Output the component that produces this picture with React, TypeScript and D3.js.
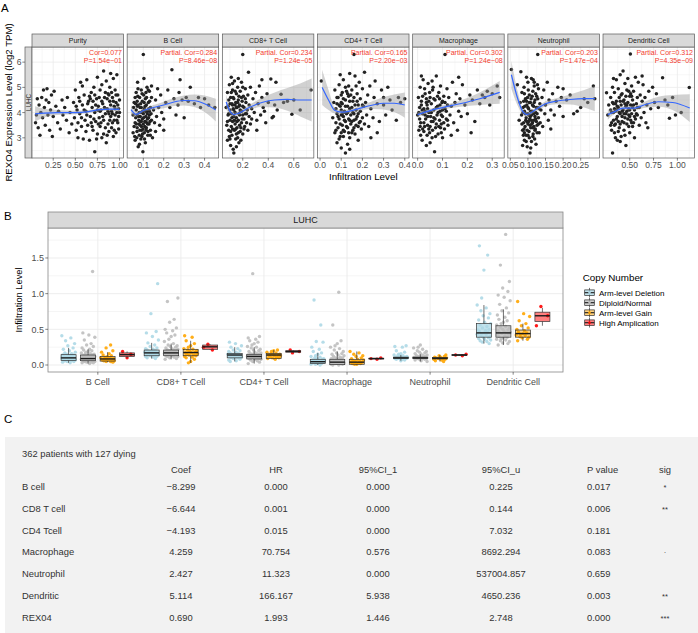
import React from 'react';
import * as d3 from 'd3';

const FONT = "'Liberation Sans', Arial, Helvetica, sans-serif";

// ---------------- Panel A data ----------------
const panelNames = ["Purity", "B Cell", "CD8+ T Cell", "CD4+ T Cell", "Macrophage", "Neutrophil", "Dendritic Cell"];
const corLabels = ["Cor=0.077", "Partial. Cor=0.284", "Partial. Cor=0.234", "Partial. Cor=0.165", "Partial. Cor=0.302", "Partial. Cor=0.203", "Partial. Cor=0.312"];
const pLabels = ["P=1.54e\u221201", "P=8.46e\u221208", "P=1.24e\u221205", "P=2.20e\u221203", "P=1.24e\u221208", "P=1.47e\u221204", "P=4.35e\u221209"];
const xDomains: [number, number][] = [[0.01, 1.045], [0.021, 0.469], [0.04, 0.757], [-0.012, 0.42], [-0.02, 0.348], [0.043, 0.303], [0.22, 1.18]];
const xTicks: number[][] = [[0.25, 0.5, 0.75, 1.0], [0.1, 0.2, 0.3, 0.4], [0.2, 0.4, 0.6], [0.0, 0.1, 0.2, 0.3, 0.4], [0.0, 0.1, 0.2, 0.3], [0.05, 0.1, 0.15, 0.2, 0.25], [0.5, 0.75, 1.0]];
const xTickLabels: string[][] = [["0.25", "0.50", "0.75", "1.00"], ["0.1", "0.2", "0.3", "0.4"], ["0.2", "0.4", "0.6"], ["0.0", "0.1", "0.2", "0.3", "0.4"], ["0.0", "0.1", "0.2", "0.3"], ["0.05", "0.10", "0.15", "0.20", "0.25"], ["0.50", "0.75", "1.00"]];
const yTicksA = [3, 4, 5, 6];
const yDomainA: [number, number] = [2.2, 6.6];

const purityPts = [[0.05,3.6],[0.06,3.9],[0.07,4.55],[0.08,3.4],[0.09,4.3],[0.10,3.1],[0.11,4.0],[0.12,4.6],[0.13,3.8],[0.14,4.9],[0.15,4.2],[0.16,3.5],[0.17,4.5],[0.18,4.95],[0.19,3.9],[0.20,4.4],[0.21,3.3],[0.22,4.1],[0.23,4.7],[0.24,3.05],[0.25,3.85],[0.26,4.85],[0.28,4.25],[0.30,3.6],[0.31,4.05],[0.33,3.35],[0.35,4.5],[0.36,3.9],[0.38,4.2],[0.40,3.7],[0.41,4.6],[0.43,3.2],[0.44,4.0],[0.46,3.55],
[0.48,4.4],[0.49,3.8],[0.50,4.9],[0.51,3.3],[0.52,4.1],[0.53,3.6],[0.54,4.6],[0.55,3.95],[0.56,5.2],[0.57,3.45],[0.58,4.3],[0.59,2.95],[0.60,4.7],[0.61,3.7],[0.62,4.05],[0.63,5.3],[0.64,3.5],[0.65,4.45],[0.66,2.9],[0.67,3.85],[0.68,4.8],[0.69,4.2],[0.70,3.3],[0.71,5.0],[0.72,2.45],[0.72,4.0],[0.73,3.65],[0.74,4.55],[0.75,5.4],[0.75,3.15],[0.76,4.25],[0.77,3.8],[0.78,4.9],[0.78,3.45],[0.79,4.1],[0.80,3.0],[0.80,5.1],[0.81,4.35],[0.82,5.65],[0.82,3.7],[0.83,4.6],[0.84,3.95],[0.85,2.8],[0.85,5.25],[0.86,4.15],[0.87,3.55],[0.87,4.75],[0.88,3.25],[0.89,4.45],[0.89,5.0],[0.90,3.85],[0.90,5.55],[0.91,4.05],[0.91,3.4],[0.92,4.6],[0.93,3.05],[0.93,5.35],[0.94,4.25],[0.94,3.7],[0.95,4.9],[0.95,3.9],[0.96,4.4],[0.96,3.2],[0.97,5.5],[0.97,4.0],[0.98,3.6],[0.98,4.7],[0.99,4.15],[0.99,3.35],[1.0,4.5],[0.53,3.0],[0.62,3.25],[0.68,3.6],[0.74,2.95],[0.66,4.65],[0.58,5.05],[0.7,4.45],[0.76,3.55],[0.84,4.8],[0.88,3.95],[0.92,3.6],[0.86,3.1]];
const purityPtsDense = [[0.51,4.25],[0.55,4.45],[0.57,3.8],[0.6,4.1],[0.63,3.9],[0.64,4.35],[0.67,4.55],[0.69,3.45],[0.71,3.75],[0.73,4.3],[0.75,4.1],[0.77,4.6],[0.79,3.6],[0.8,4.45],[0.81,3.85],[0.83,4.2],[0.84,3.4],[0.86,4.55],[0.87,4.05],[0.88,4.7],[0.89,3.7],[0.9,4.3],[0.91,4.8],[0.92,3.95],[0.93,4.45],[0.94,3.3],[0.95,4.15],[0.96,4.7],[0.97,3.7],[0.98,4.3],[0.99,3.85],[1.0,4.0],[0.82,3.15],[0.78,4.05],[0.72,4.7]];

const bCellPts = [[0.05,3.9],[0.05,3.2],[0.055,4.4],[0.06,2.9],[0.06,3.6],[0.065,4.1],[0.065,4.8],[0.07,3.4],[0.07,3.9],[0.072,5.2],[0.075,2.65],[0.075,4.3],[0.078,3.7],[0.08,3.1],[0.08,4.0],[0.082,4.6],[0.085,3.5],[0.085,3.85],[0.088,2.95],[0.09,4.2],[0.09,4.9],[0.092,3.3],[0.095,3.75],[0.095,4.45],[0.098,2.45],[0.1,6.3],[0.1,3.95],[0.1,3.55],[0.102,4.7],[0.105,3.2],[0.105,4.15],[0.108,3.65],[0.11,4.55],[0.11,2.8],[0.112,3.85],[0.115,4.3],[0.115,3.4],[0.118,5.0],[0.12,3.75],[0.12,4.05],[0.122,3.1],[0.125,4.4],[0.128,3.55],[0.13,4.85],[0.13,3.9],[0.135,3.3],[0.135,4.2],[0.14,3.7],[0.14,4.6],[0.145,3.0],[0.06,4.6],[0.068,3.0],[0.074,4.95],[0.083,3.3],[0.087,4.35],[0.093,3.05],[0.097,4.05],[0.103,5.35],[0.107,3.45],[0.113,4.8],[0.117,3.6],[0.123,3.25],[0.127,4.15],[0.133,3.65],[0.055,3.45],[0.063,3.8],[0.071,4.25],[0.079,3.55],[0.089,4.0],[0.099,3.35],[0.109,4.25],[0.119,3.95],
[0.15,4.1],[0.155,3.6],[0.16,4.5],[0.165,3.85],[0.17,4.95],[0.175,4.2],[0.18,3.5],[0.185,4.7],[0.19,4.0],[0.2,3.75],[0.21,4.4],[0.22,4.9],[0.23,4.2],[0.24,5.7],[0.25,4.55],[0.26,3.9],[0.27,4.3],[0.275,4.8],[0.28,5.3],[0.29,4.5],[0.3,3.8],[0.31,4.6],[0.32,4.45],[0.33,5.0],[0.35,4.35],[0.37,4.6],[0.38,4.2],[0.4,4.55],[0.42,4.3],[0.45,4.2],[0.16,3.25],[0.2,3.3],[0.14,5.05]];
const bCellPtsDense = [[0.052,4.2],[0.058,3.05],[0.062,4.35],[0.066,3.55],[0.069,3.25],[0.073,4.65],[0.077,3.85],[0.081,2.75],[0.084,4.2],[0.086,3.65],[0.091,3.45],[0.094,4.75],[0.096,3.15],[0.101,3.8],[0.104,4.4],[0.106,2.95],[0.111,4.05],[0.114,3.3],[0.116,4.6],[0.121,3.55],[0.124,4.9],[0.126,3.8],[0.131,4.45],[0.134,3.1],[0.138,3.95],[0.07,4.45],[0.09,3.65],[0.11,3.65],[0.13,4.05]];

const cd8Pts = [[0.07,4.2],[0.075,3.5],[0.08,4.8],[0.08,2.9],[0.085,3.9],[0.09,4.5],[0.09,3.3],[0.095,5.1],[0.1,3.7],[0.1,4.1],[0.105,2.7],[0.105,4.6],[0.11,3.45],[0.11,3.95],[0.115,4.35],[0.115,3.1],[0.12,4.9],[0.12,3.65],[0.125,4.15],[0.125,2.55],[0.13,3.85],[0.13,4.55],[0.135,3.3],[0.135,5.25],[0.14,4.0],[0.14,3.55],[0.145,4.4],[0.145,2.95],[0.15,3.8],[0.15,4.75],[0.155,3.4],[0.155,4.2],[0.16,3.0],[0.16,5.0],[0.165,3.7],[0.165,4.5],[0.17,3.95],[0.17,2.8],[0.175,4.3],[0.175,3.5],[0.18,4.85],[0.18,3.25],[0.185,4.05],[0.19,3.6],[0.19,5.2],[0.195,4.45],[0.2,3.9],[0.2,6.3],[0.2,3.15],[0.205,4.65],[0.21,3.75],[0.21,4.2],[0.215,3.45],[0.22,4.95],[0.22,3.95],[0.225,4.4],[0.23,3.6],[0.235,4.1],[0.24,3.3],[0.24,4.7],[0.245,5.6],[0.25,3.85],[0.25,4.3],[0.26,3.55],[0.26,5.0],[0.27,4.15],[0.27,3.75],[0.28,4.55],[0.13,2.4],[0.095,3.05],[0.11,5.4],[0.15,3.15],[0.185,2.9],[0.165,5.35],[0.12,4.3],[0.14,4.85],[0.17,4.65],[0.19,4.05],[0.08,3.65],
[0.29,4.0],[0.3,4.8],[0.31,3.7],[0.32,4.35],[0.33,5.05],[0.34,3.9],[0.35,4.6],[0.36,4.2],[0.37,4.05],[0.38,3.6],[0.39,4.75],[0.4,4.4],[0.42,5.33],[0.43,3.8],[0.44,3.85],[0.45,4.3],[0.46,5.2],[0.47,4.1],[0.5,4.73],[0.52,4.4],[0.55,4.45],[0.585,3.93],[0.6,4.5],[0.65,4.1],[0.735,4.9],[0.31,3.3],[0.35,5.3]];
const cd8PtsDense = [[0.085,4.25],[0.09,3.95],[0.1,4.35],[0.105,3.25],[0.11,4.8],[0.115,3.8],[0.12,3.35],[0.125,4.6],[0.13,4.1],[0.135,3.7],[0.14,4.3],[0.145,3.35],[0.15,4.2],[0.155,3.65],[0.16,4.4],[0.165,3.2],[0.17,4.25],[0.175,3.9],[0.18,4.1],[0.185,3.4],[0.19,4.6],[0.195,3.75],[0.2,4.25],[0.21,3.35],[0.22,4.55],[0.23,3.95],[0.1,2.95],[0.15,2.65],[0.2,5.0],[0.12,5.15]];

const cd4Pts = [[0.006,5.25],[0.06,3.8],[0.065,4.4],[0.07,3.2],[0.07,4.9],[0.075,3.6],[0.075,4.15],[0.08,2.8],[0.08,3.95],[0.085,4.6],[0.085,3.4],[0.09,5.1],[0.09,3.75],[0.095,4.25],[0.095,3.05],[0.1,3.9],[0.1,4.7],[0.1,2.6],[0.105,3.5],[0.105,4.35],[0.11,3.85],[0.11,5.3],[0.115,3.25],[0.115,4.05],[0.12,2.4],[0.12,4.5],[0.12,3.65],[0.125,4.85],[0.125,3.95],[0.13,3.4],[0.13,4.25],[0.135,3.75],[0.135,5.05],[0.14,3.0],[0.14,4.45],[0.145,3.9],[0.145,3.55],[0.15,4.2],[0.15,4.9],[0.155,3.3],[0.155,4.0],[0.16,6.3],[0.16,3.7],[0.16,4.6],[0.165,3.15],[0.165,5.45],[0.17,4.1],[0.17,3.5],[0.175,4.75],[0.175,3.85],[0.18,4.3],[0.18,2.9],[0.185,3.6],[0.185,5.2],[0.19,4.05],[0.19,4.55],[0.195,3.35],[0.2,3.8],[0.2,4.95],[0.205,4.25],[0.21,3.55],[0.21,5.6],[0.215,4.4],[0.22,3.9],[0.09,2.95],[0.11,3.05],[0.13,2.75],[0.15,3.2],[0.095,5.5],[0.14,5.55],[0.08,4.35],[0.1,4.1],[0.12,4.0],[0.14,3.7],[0.16,3.95],[0.18,3.45],[0.105,4.8],[0.135,4.65],
[0.225,4.7],[0.23,3.45],[0.235,5.05],[0.24,4.15],[0.25,3.8],[0.255,4.6],[0.26,5.25],[0.27,4.35],[0.28,3.65],[0.29,4.9],[0.3,4.3],[0.3,4.6],[0.31,3.9],[0.32,5.0],[0.33,4.5],[0.34,4.1],[0.36,3.7],[0.37,4.6],[0.38,4.4],[0.4,4.55],[0.27,3.2],[0.24,3.0]];
const cd4PtsDense = [[0.075,3.3],[0.08,4.6],[0.085,3.85],[0.09,4.3],[0.095,3.55],[0.1,4.4],[0.105,3.95],[0.11,3.3],[0.11,4.55],[0.115,3.7],[0.12,4.25],[0.125,3.45],[0.13,4.0],[0.13,4.75],[0.135,3.2],[0.14,4.15],[0.145,4.7],[0.15,3.65],[0.155,4.45],[0.16,3.4],[0.165,4.3],[0.17,3.75],[0.175,4.45],[0.18,3.95],[0.19,3.65],[0.2,4.3],[0.1,3.2],[0.14,2.55],[0.12,5.0],[0.17,5.05]];

const macPts = [[0.0,3.9],[0.003,4.6],[0.005,3.3],[0.008,4.2],[0.01,5.0],[0.012,3.6],[0.015,4.45],[0.018,2.9],[0.02,3.95],[0.022,5.3],[0.025,4.15],[0.028,3.45],[0.03,4.75],[0.032,3.75],[0.035,2.7],[0.038,4.3],[0.04,3.5],[0.042,5.15],[0.045,4.0],[0.048,3.2],[0.05,4.6],[0.052,3.85],[0.055,4.35],[0.058,3.0],[0.06,4.9],[0.062,3.65],[0.065,4.1],[0.068,2.45],[0.07,4.5],[0.072,3.4],[0.075,5.45],[0.078,3.9],[0.08,4.25],[0.082,3.15],[0.085,4.8],[0.088,3.7],[0.09,4.05],[0.092,5.05],[0.095,3.55],[0.098,4.4],[0.1,3.85],[0.1,3.0],[0.105,4.65],[0.108,3.35],[0.11,6.3],[0.11,4.15],[0.115,3.75],[0.118,4.95],[0.12,4.3],[0.122,3.5],[0.012,3.1],[0.028,4.95],[0.045,3.35],[0.058,5.25],[0.072,3.05],[0.088,4.55],[0.025,3.6],[0.04,4.15],[0.065,3.8],[0.082,4.0],[0.1,4.45],[0.035,4.4],[0.05,2.8],[0.095,3.2],[0.015,5.45],[0.03,4.05],[0.055,3.65],[0.075,4.2],[0.02,3.35],
[0.125,4.6],[0.13,3.9],[0.135,4.25],[0.14,5.2],[0.145,3.6],[0.15,4.4],[0.155,4.75],[0.16,3.3],[0.165,4.05],[0.17,4.55],[0.175,3.85],[0.18,5.1],[0.19,4.3],[0.2,3.95],[0.21,4.7],[0.22,4.5],[0.23,3.65],[0.24,4.9],[0.25,4.35],[0.26,4.7],[0.27,4.6],[0.28,4.85],[0.29,4.3],[0.3,4.75],[0.32,5.05],[0.33,4.6],[0.215,3.2],[0.135,3.1],[0.165,5.4]];
const macPtsDense = [[0.005,4.0],[0.01,3.45],[0.015,4.3],[0.02,4.65],[0.025,3.25],[0.03,3.9],[0.035,4.55],[0.04,3.85],[0.045,4.45],[0.05,3.45],[0.055,4.0],[0.06,3.3],[0.065,4.55],[0.07,3.75],[0.075,3.55],[0.08,4.65],[0.085,3.45],[0.09,4.3],[0.095,3.9],[0.1,4.1],[0.105,3.6],[0.11,4.4],[0.115,4.05],[0.12,3.7],[0.008,3.75],[0.038,3.1],[0.062,5.0],[0.092,3.4],[0.048,4.8],[0.018,4.1]];

const neuPts = [[0.053,5.71],[0.08,5.62],[0.07,5.1],[0.075,3.7],[0.078,4.4],[0.082,3.9],[0.083,4.8],[0.085,3.3],[0.086,4.2],[0.088,3.6],[0.089,5.0],[0.09,2.9],[0.09,4.05],[0.092,3.45],[0.093,4.55],[0.095,3.8],[0.095,3.1],[0.097,4.3],[0.098,2.65],[0.1,3.95],[0.1,5.2],[0.1,3.55],[0.102,4.15],[0.103,3.25],[0.104,4.7],[0.105,3.75],[0.106,2.4],[0.107,4.4],[0.108,3.4],[0.11,5.35],[0.11,3.9],[0.11,2.85],[0.112,4.05],[0.113,3.6],[0.114,4.85],[0.115,3.15],[0.116,4.25],[0.117,3.7],[0.118,5.05],[0.12,3.85],[0.12,4.5],[0.121,3.35],[0.122,4.0],[0.123,2.75],[0.125,4.65],[0.126,3.5],[0.128,6.3],[0.128,4.2],[0.13,3.8],[0.13,4.95],[0.132,3.2],[0.134,4.35],[0.135,3.6],[0.137,4.1],[0.085,2.7],[0.09,3.2],[0.096,5.4],[0.101,4.9],[0.104,3.0],[0.109,4.55],[0.115,5.3],[0.119,2.95],[0.124,3.65],[0.127,5.1],[0.088,4.45],[0.093,3.95],[0.099,4.6],[0.107,3.85],[0.113,4.3],[0.117,3.45],[0.122,4.75],[0.087,3.1],[0.097,3.65],[0.103,3.9],[0.111,3.55],[0.126,3.95],
[0.14,4.6],[0.142,3.45],[0.145,4.9],[0.148,3.95],[0.15,4.3],[0.155,5.2],[0.158,3.7],[0.16,4.5],[0.165,4.1],[0.17,4.75],[0.175,3.9],[0.18,4.45],[0.185,5.0],[0.19,4.25],[0.195,4.6],[0.2,3.85],[0.21,4.5],[0.22,4.7],[0.23,3.95],[0.24,4.05],[0.25,4.2],[0.26,4.55],[0.27,4.4],[0.286,5.05],[0.29,4.55],[0.165,3.35],[0.2,4.95]];
const neuPtsDense = [[0.083,3.55],[0.086,4.0],[0.089,3.35],[0.091,4.25],[0.094,3.7],[0.096,4.45],[0.098,3.3],[0.1,4.2],[0.102,3.65],[0.104,4.4],[0.106,3.5],[0.108,4.05],[0.11,3.7],[0.112,4.65],[0.114,3.4],[0.116,3.95],[0.118,4.4],[0.12,3.3],[0.122,3.75],[0.124,4.2],[0.126,3.2],[0.128,4.55],[0.13,3.55],[0.132,4.15],[0.108,2.6],[0.095,2.85],[0.118,5.2],[0.09,4.75],[0.1,3.1],[0.114,3.05]];

const denPts = [[0.257,4.79],[0.27,3.9],[0.28,4.3],[0.3,3.5],[0.3,4.6],[0.31,4.0],[0.32,2.4],[0.32,5.0],[0.33,3.7],[0.33,4.35],[0.34,3.2],[0.34,4.8],[0.35,4.05],[0.35,3.55],[0.36,5.3],[0.36,4.45],[0.37,2.9],[0.37,3.85],[0.38,4.2],[0.38,4.95],[0.39,3.4],[0.39,4.6],[0.4,5.5],[0.4,3.95],[0.41,4.3],[0.41,3.05],[0.42,4.75],[0.42,3.65],[0.43,5.65],[0.43,4.1],[0.44,3.3],[0.44,4.5],[0.45,5.15],[0.45,3.8],[0.46,4.25],[0.46,2.7],[0.47,4.9],[0.47,3.55],[0.48,4.4],[0.48,5.35],[0.49,3.9],[0.49,4.15],[0.5,3.2],[0.5,4.65],[0.507,6.32],[0.51,3.7],[0.51,4.3],[0.52,5.05],[0.52,3.95],[0.53,4.5],[0.53,3.45],[0.54,4.85],[0.55,4.1],[0.55,3.0],[0.56,5.4],[0.56,3.75],[0.57,4.35],[0.58,4.6],[0.58,3.9],[0.59,5.2],[0.6,4.2],[0.6,3.5],[0.35,3.0],[0.4,2.85],[0.45,3.1],[0.33,5.35],[0.38,3.25],[0.42,4.05],[0.47,4.05],[0.52,4.65],[0.36,4.1],[0.44,3.95],[0.5,3.85],[0.31,3.3],[0.4,4.45],[0.49,4.85],[0.54,3.6],
[0.61,4.7],[0.62,3.8],[0.63,4.45],[0.64,5.1],[0.65,4.0],[0.66,4.6],[0.67,3.6],[0.68,4.3],[0.7,4.85],[0.72,4.15],[0.74,5.0],[0.76,4.4],[0.78,4.75],[0.8,4.2],[0.845,5.38],[0.87,4.5],[0.9,4.3],[0.917,3.78],[0.95,4.6],[0.98,3.9],[1.04,4.0],[1.125,4.99],[0.69,3.4],[0.63,5.45]];
const denPtsDense = [[0.3,4.1],[0.31,3.6],[0.32,4.4],[0.33,4.0],[0.34,3.5],[0.35,4.35],[0.36,3.75],[0.37,4.25],[0.38,3.65],[0.39,4.0],[0.4,3.55],[0.41,4.7],[0.42,3.85],[0.43,4.45],[0.44,3.6],[0.45,4.35],[0.46,3.95],[0.47,4.3],[0.48,3.75],[0.49,3.45],[0.5,4.1],[0.51,4.75],[0.52,3.6],[0.53,4.2],[0.54,4.3],[0.55,3.85],[0.57,3.95],[0.58,4.2],[0.34,4.15],[0.46,4.65]];

// smooth fits: [x, fit, half-width of 95% band]
const puritySmooth = [[0.045,3.95,0.3],[0.15,3.98,0.17],[0.3,4.0,0.1],[0.5,4.0,0.07],[0.65,4.04,0.06],[0.78,4.12,0.06],[0.9,4.14,0.07],[1.0,4.13,0.1]];
const bCellSmooth = [[0.04,4.12,0.2],[0.065,3.93,0.09],[0.1,4.08,0.07],[0.15,4.2,0.1],[0.2,4.3,0.13],[0.25,4.42,0.16],[0.3,4.48,0.2],[0.35,4.47,0.25],[0.4,4.35,0.33],[0.455,4.1,0.45]];
const cd8Smooth = [[0.07,4.42,0.3],[0.1,4.05,0.12],[0.13,3.92,0.08],[0.17,3.98,0.08],[0.25,4.2,0.1],[0.35,4.4,0.18],[0.45,4.5,0.3],[0.55,4.52,0.45],[0.65,4.5,0.65],[0.74,4.5,0.85]];
const cd4Smooth = [[0.01,5.0,0.7],[0.04,4.5,0.4],[0.07,4.08,0.12],[0.1,4.02,0.08],[0.15,4.08,0.08],[0.2,4.2,0.1],[0.25,4.3,0.16],[0.3,4.37,0.25],[0.35,4.37,0.35],[0.4,4.3,0.5]];
const macSmooth = [[0.0,3.92,0.1],[0.05,4.08,0.07],[0.1,4.2,0.08],[0.17,4.35,0.12],[0.25,4.55,0.25],[0.33,4.8,0.45]];
const neuSmooth = [[0.053,5.5,0.55],[0.07,4.6,0.3],[0.085,4.05,0.12],[0.097,3.92,0.08],[0.12,4.1,0.08],[0.15,4.35,0.1],[0.18,4.45,0.12],[0.22,4.52,0.2],[0.26,4.55,0.35],[0.29,4.55,0.5]];
const denSmooth = [[0.27,3.92,0.2],[0.35,4.05,0.08],[0.43,4.18,0.07],[0.55,4.18,0.08],[0.65,4.3,0.12],[0.8,4.43,0.2],[0.95,4.4,0.3],[1.13,4.18,0.55]];

const scatterData = [
  purityPts.concat(purityPtsDense), bCellPts.concat(bCellPtsDense), cd8Pts.concat(cd8PtsDense),
  cd4Pts.concat(cd4PtsDense), macPts.concat(macPtsDense), neuPts.concat(neuPtsDense), denPts.concat(denPtsDense)
];
const smoothData = [puritySmooth, bCellSmooth, cd8Smooth, cd4Smooth, macSmooth, neuSmooth, denSmooth];

// ---------------- Panel B data ----------------
const bCategories = ["B Cell", "CD8+ T Cell", "CD4+ T Cell", "Macrophage", "Neutrophil", "Dendritic Cell"];
const cnGroups = ["Arm-level Deletion", "Diploid/Normal", "Arm-level Gain", "High Amplication"];
const cnColors = ["#ADD8E6", "#BEBEBE", "#FFA500", "#FF0000"];
const yTicksB = [0, 0.5, 1.0, 1.5];
const yTickLabelsB = ["0.0", "0.5", "1.0", "1.5"];

// box stats per category: [lower whisker, q1, median, q3, upper whisker]
const boxDeletion = [[0.03,0.065,0.10,0.145,0.24],[0.09,0.13,0.17,0.21,0.31],[0.05,0.10,0.14,0.16,0.25],[0.0,0.02,0.046,0.08,0.17],[0.06,0.09,0.10,0.11,0.14],[0.3,0.39,0.45,0.58,0.84]];
const boxDiploid = [[0.02,0.06,0.09,0.14,0.22],[0.08,0.13,0.17,0.21,0.3],[0.02,0.085,0.12,0.15,0.25],[0.0,0.005,0.04,0.08,0.19],[0.05,0.09,0.10,0.11,0.15],[0.28,0.39,0.45,0.55,0.78]];
const boxGain = [[0.04,0.055,0.085,0.12,0.18],[0.03,0.13,0.175,0.22,0.34],[0.08,0.09,0.14,0.16,0.21],[0.0,0.01,0.04,0.08,0.19],[0.05,0.085,0.095,0.105,0.14],[0.34,0.39,0.44,0.49,0.58]];
const boxAmp = [[0.10,0.12,0.145,0.17,0.19],[0.21,0.22,0.255,0.28,0.29],[0.17,0.18,0.19,0.2,0.21],[0.08,0.085,0.09,0.095,0.1],[0.13,0.135,0.14,0.145,0.15],[0.55,0.61,0.69,0.74,0.80]];

const ptsDeletion = [
  [0.41,0.38,0.34,0.3,0.27,0.24,0.22,0.2,0.18,0.17,0.16,0.15,0.14,0.14,0.13,0.12,0.12,0.11,0.11,0.1,0.1,0.1,0.09,0.09,0.08,0.08,0.07,0.07,0.06,0.06,0.05,0.05,0.04,0.03],
  [1.14,0.72,0.47,0.45,0.4,0.35,0.31,0.28,0.26,0.24,0.23,0.22,0.21,0.2,0.19,0.19,0.18,0.18,0.17,0.17,0.16,0.16,0.15,0.15,0.14,0.14,0.13,0.13,0.12,0.12,0.11,0.1,0.09],
  [0.32,0.3,0.27,0.25,0.23,0.21,0.2,0.19,0.18,0.17,0.16,0.16,0.15,0.15,0.14,0.14,0.13,0.13,0.12,0.12,0.11,0.11,0.1,0.1,0.09,0.08,0.07,0.06,0.05],
  [0.91,0.56,0.33,0.32,0.25,0.22,0.19,0.17,0.15,0.13,0.12,0.11,0.1,0.09,0.09,0.08,0.07,0.07,0.06,0.06,0.05,0.05,0.04,0.04,0.03,0.03,0.02,0.02,0.01,0.01,0.0],
  [0.27,0.26,0.25,0.2,0.18,0.16,0.15,0.14,0.13,0.13,0.12,0.12,0.11,0.11,0.11,0.1,0.1,0.1,0.09,0.09,0.09,0.08,0.08,0.07,0.06],
  [1.67,1.54,1.33,0.94,0.84,0.8,0.76,0.72,0.69,0.66,0.63,0.6,0.58,0.56,0.54,0.52,0.5,0.49,0.48,0.47,0.46,0.45,0.44,0.43,0.42,0.41,0.4,0.39,0.38,0.37,0.36,0.35,0.34,0.33,0.32,0.3]
];
const ptsDiploid = [
  [1.31,0.45,0.42,0.39,0.35,0.3,0.28,0.26,0.24,0.22,0.21,0.2,0.19,0.18,0.17,0.16,0.15,0.15,0.14,0.14,0.13,0.13,0.12,0.12,0.11,0.11,0.1,0.1,0.1,0.09,0.09,0.09,0.08,0.08,0.08,0.07,0.07,0.07,0.06,0.06,0.06,0.05,0.05,0.04,0.04,0.03,0.03,0.02],
  [0.94,0.89,0.64,0.6,0.52,0.5,0.48,0.45,0.42,0.4,0.36,0.33,0.3,0.28,0.27,0.26,0.25,0.24,0.23,0.22,0.21,0.21,0.2,0.2,0.19,0.19,0.18,0.18,0.17,0.17,0.16,0.16,0.15,0.15,0.14,0.14,0.13,0.13,0.12,0.12,0.11,0.1,0.09,0.08],
  [1.28,0.4,0.38,0.36,0.34,0.32,0.3,0.28,0.26,0.25,0.24,0.22,0.21,0.2,0.19,0.18,0.17,0.16,0.16,0.15,0.15,0.14,0.14,0.13,0.13,0.12,0.12,0.12,0.11,0.11,0.1,0.1,0.09,0.09,0.08,0.08,0.07,0.06,0.05,0.04,0.02],
  [1.02,0.56,0.34,0.3,0.27,0.25,0.23,0.21,0.19,0.17,0.16,0.15,0.14,0.13,0.12,0.11,0.1,0.1,0.09,0.09,0.08,0.08,0.07,0.07,0.06,0.06,0.05,0.05,0.04,0.04,0.04,0.03,0.03,0.03,0.02,0.02,0.01,0.01,0.0,0.0],
  [0.28,0.25,0.24,0.22,0.2,0.19,0.18,0.17,0.16,0.15,0.14,0.13,0.13,0.12,0.12,0.11,0.11,0.11,0.1,0.1,0.1,0.1,0.09,0.09,0.09,0.08,0.08,0.07,0.06,0.05],
  [1.83,1.4,1.17,1.08,1.03,0.98,0.95,0.9,0.85,0.8,0.76,0.73,0.7,0.67,0.64,0.62,0.6,0.58,0.56,0.54,0.53,0.52,0.5,0.49,0.48,0.47,0.46,0.45,0.45,0.44,0.43,0.42,0.41,0.4,0.39,0.38,0.37,0.36,0.35,0.34,0.33,0.31,0.3,0.28]
];
const ptsGain = [
  [0.28,0.24,0.2,0.18,0.16,0.14,0.13,0.12,0.11,0.1,0.1,0.09,0.09,0.08,0.08,0.07,0.07,0.06,0.06,0.05,0.05,0.04],
  [0.41,0.39,0.34,0.3,0.27,0.25,0.23,0.22,0.21,0.2,0.19,0.18,0.17,0.17,0.16,0.15,0.14,0.14,0.13,0.12,0.11,0.1,0.08,0.05,0.03],
  [0.21,0.2,0.19,0.18,0.17,0.16,0.15,0.15,0.14,0.14,0.13,0.13,0.12,0.11,0.1,0.1,0.09,0.08],
  [0.19,0.17,0.15,0.13,0.12,0.1,0.09,0.08,0.07,0.06,0.05,0.05,0.04,0.04,0.03,0.02,0.02,0.01,0.01],
  [0.14,0.13,0.12,0.11,0.11,0.1,0.1,0.09,0.09,0.08,0.08,0.07,0.06,0.05],
  [0.89,0.72,0.68,0.62,0.58,0.55,0.52,0.5,0.48,0.46,0.45,0.44,0.43,0.42,0.41,0.4,0.39,0.38,0.36,0.34]
];
const ptsAmp = [
  [0.19,0.15,0.1],[0.29,0.25,0.21],[0.21,0.19,0.17],[0.1,0.09,0.08],[0.15,0.14,0.13],[0.82,0.69,0.55]
];

const boxData = [boxDeletion, boxDiploid, boxGain, boxAmp];
const jitterData = [ptsDeletion, ptsDiploid, ptsGain, ptsAmp];
const jitterPattern = [-0.9, 0.3, -0.4, 0.8, -0.1, 0.6, -0.7, 0.1, 0.9, -0.5, 0.4, -0.2, 0.7, -0.8, 0.2, -0.6, 0.5, 0.0, -0.3];

// ---------------- Panel C data ----------------
const tableTitle = "362 patients with 127 dying";
const tableHeaders = ["Coef", "HR", "95%CI_1", "95%CI_u", "P value", "sig"];
const tableRows = ["B cell", "CD8 T cell", "CD4 Tcell", "Macrophage", "Neutrophil", "Dendritic", "REX04"];
const colCoef = ["\u22128.299", "\u22126.644", "\u22124.193", "4.259", "2.427", "5.114", "0.690"];
const colHR = ["0.000", "0.001", "0.015", "70.754", "11.323", "166.167", "1.993"];
const colCI1 = ["0.000", "0.000", "0.000", "0.576", "0.000", "5.938", "1.446"];
const colCIu = ["0.225", "0.144", "7.032", "8692.294", "537004.857", "4650.236", "2.748"];
const colP = ["0.017", "0.006", "0.181", "0.083", "0.659", "0.003", "0.000"];
const colSig = ["*", "**", "", "\u00b7", "", "**", "***"];

function minorBreaks(majors: number[], dom: [number, number]) {
  const step = majors.length > 1 ? majors[1] - majors[0] : 1;
  const res: number[] = [];
  const lo = Math.min(dom[0], dom[1]), hi = Math.max(dom[0], dom[1]);
  let v = majors[0] - step / 2;
  while (v - step >= lo) v -= step;
  for (; v <= hi + 1e-9; v += step) if (v >= lo) res.push(v);
  return res;
}

const App = () => {
  const W = 698, H = 633;
  const gridCol = "#EBEBEB";
  const tickTextCol = "#4D4D4D";

  // ---- Panel A geometry
  const aTop = 47, aBottom = 158, stripTop = 34;
  const panelStep = 95.17, panelW = 91.5, aLeft0 = 32;
  const yA = d3.scaleLinear().domain(yDomainA).range([aBottom, aTop]);
  const yMinorA = minorBreaks(yTicksA, yDomainA);

  const panelsA = panelNames.map((name, i) => {
    const x0 = aLeft0 + i * panelStep;
    const x1 = x0 + panelW;
    const xs = d3.scaleLinear().domain(xDomains[i]).range([x0, x1]);
    const sm = smoothData[i];
    const line = d3.line<number[]>().x(d => xs(d[0])).y(d => yA(d[1])).curve(d3.curveMonotoneX);
    const area = d3.area<number[]>().x(d => xs(d[0])).y0(d => yA(d[1] - d[2])).y1(d => yA(d[1] + d[2])).curve(d3.curveMonotoneX);
    const xMinor = minorBreaks(xTicks[i], xDomains[i]);
    return (
      <g key={name}>
        <defs>
          <clipPath id={`clipA${i}`}><rect x={x0} y={aTop} width={panelW} height={aBottom - aTop} /></clipPath>
        </defs>
        <rect x={x0} y={aTop} width={panelW} height={aBottom - aTop} fill="#fff" />
        {xMinor.map((v, k) => <line key={`xm${k}`} x1={xs(v)} x2={xs(v)} y1={aTop} y2={aBottom} stroke={gridCol} strokeWidth={0.4} />)}
        {yMinorA.map((v, k) => <line key={`ym${k}`} x1={x0} x2={x1} y1={yA(v)} y2={yA(v)} stroke={gridCol} strokeWidth={0.4} />)}
        {xTicks[i].map((v, k) => <line key={`xM${k}`} x1={xs(v)} x2={xs(v)} y1={aTop} y2={aBottom} stroke={gridCol} strokeWidth={0.8} />)}
        {yTicksA.map((v, k) => <line key={`yM${k}`} x1={x0} x2={x1} y1={yA(v)} y2={yA(v)} stroke={gridCol} strokeWidth={0.8} />)}
        <g clipPath={`url(#clipA${i})`}>
          {scatterData[i].map((p, k) => <circle key={k} cx={xs(p[0])} cy={yA(p[1])} r={1.75} fill="#222222" />)}
          <path d={area(sm) || ""} fill="#999999" fillOpacity={0.45} />
          <path d={line(sm) || ""} fill="none" stroke="#3366FF" strokeWidth={1.2} />
        </g>
        <rect x={x0} y={aTop} width={panelW} height={aBottom - aTop} fill="none" stroke="#5a5a5a" strokeWidth={0.7} />
        {/* strip */}
        <rect x={x0} y={stripTop} width={panelW} height={aTop - stripTop} fill="#D9D9D9" stroke="#5a5a5a" strokeWidth={0.7} />
        <text x={(x0 + x1) / 2} y={(stripTop + aTop) / 2 + 2.4} textAnchor="middle" fontSize={7} fill="#1A1A1A">{name}</text>
        {/* annotation */}
        <text x={x1 - 1.5} y={55} textAnchor="end" fontSize={7} fill="#F23B2E">{corLabels[i]}</text>
        <text x={x1 - 1.5} y={62.5} textAnchor="end" fontSize={7} fill="#F23B2E">{pLabels[i]}</text>
        {/* x axis */}
        {xTicks[i].map((v, k) => (
          <g key={`xt${k}`}>
            <line x1={xs(v)} x2={xs(v)} y1={aBottom} y2={aBottom + 2.7} stroke="#333" strokeWidth={0.6} />
            <text x={xs(v)} y={aBottom + 10} textAnchor="middle" fontSize={8.5} fill={tickTextCol}>{xTickLabels[i][k]}</text>
          </g>
        ))}
      </g>
    );
  });

  // ---- Panel B geometry
  const bLeft = 48, bRight = 563, bTop = 228, bBottom = 372, bStripTop = 212;
  const xB = d3.scalePoint<string>().domain(bCategories).range([bLeft, bRight]).padding(0.6);
  const yB = d3.scaleLinear().domain([-0.098, 1.92]).range([bBottom, bTop]);
  const yMinorB = minorBreaks(yTicksB, [-0.098, 1.92]);
  const dodge = 19.5, boxW = 15;

  const boxFillOpacity = [0.75, 0.75, 0.5, 0.5];

  return (
    <svg width={W} height={H} style={{ position: 'absolute', left: 0, top: 0, fontFamily: FONT }}>
      <rect x={0} y={0} width={W} height={H} fill="#fff" />
      {/* ================= Panel A ================= */}
      <text x={1} y={12} fontSize={11.5} fill="#000">A</text>
      <text transform={`translate(11.5,${(aTop + aBottom) / 2}) rotate(-90)`} textAnchor="middle" fontSize={9.6} fill="#000">REXO4 Expression Level (log2 TPM)</text>
      {yTicksA.map((v, k) => (
        <g key={`yta${k}`}>
          <line x1={22.3} x2={25} y1={yA(v)} y2={yA(v)} stroke="#333" strokeWidth={0.6} />
          <text x={21.5} y={yA(v) + 3} textAnchor="end" fontSize={8.5} fill={tickTextCol}>{v}</text>
        </g>
      ))}
      <rect x={25} y={aTop} width={7} height={aBottom - aTop} fill="#D9D9D9" stroke="#5a5a5a" strokeWidth={0.7} />
      <text transform={`translate(30.7,${(aTop + aBottom) / 2}) rotate(-90)`} textAnchor="middle" fontSize={6.3} fill="#1A1A1A">LUHC</text>
      {panelsA}
      <text x={(aLeft0 + aLeft0 + 6 * panelStep + panelW) / 2} y={180} textAnchor="middle" fontSize={9.8} fill="#000">Infiltration Level</text>

      {/* ================= Panel B ================= */}
      <text x={4} y={220} fontSize={11.5} fill="#000">B</text>
      <rect x={bLeft} y={bTop} width={bRight - bLeft} height={bBottom - bTop} fill="#fff" />
      {yMinorB.map((v, k) => <line key={`ybm${k}`} x1={bLeft} x2={bRight} y1={yB(v)} y2={yB(v)} stroke={gridCol} strokeWidth={0.5} />)}
      {yTicksB.map((v, k) => <line key={`ybM${k}`} x1={bLeft} x2={bRight} y1={yB(v)} y2={yB(v)} stroke={gridCol} strokeWidth={0.9} />)}
      {bCategories.map((c, k) => <line key={`xbM${k}`} x1={xB(c)} x2={xB(c)} y1={bTop} y2={bBottom} stroke={gridCol} strokeWidth={0.9} />)}
      {bCategories.map((c, ci) => (
        <g key={`cat${ci}`}>
          {cnGroups.map((g, gi) => {
            const cx = (xB(c) as number) + (gi - 1.5) * dodge;
            const b = boxData[gi][ci];
            const pts = jitterData[gi][ci];
            return (
              <g key={`g${gi}`}>
                {pts.map((v, k) => (
                  <circle key={k} cx={cx + jitterPattern[(k + ci * 3 + gi * 5) % jitterPattern.length] * 7.5} cy={yB(v)} r={1.7} fill={cnColors[gi]} fillOpacity={0.9} />
                ))}
                <line x1={cx} x2={cx} y1={yB(b[0])} y2={yB(b[1])} stroke="#333" strokeWidth={0.7} />
                <line x1={cx} x2={cx} y1={yB(b[3])} y2={yB(b[4])} stroke="#333" strokeWidth={0.7} />
                <rect x={cx - boxW / 2} y={yB(b[3])} width={boxW} height={Math.max(0.5, yB(b[1]) - yB(b[3]))} fill={cnColors[gi]} fillOpacity={boxFillOpacity[gi]} stroke="#333" strokeWidth={0.7} />
                <line x1={cx - boxW / 2} x2={cx + boxW / 2} y1={yB(b[2])} y2={yB(b[2])} stroke="#1A1A1A" strokeWidth={1.4} />
              </g>
            );
          })}
        </g>
      ))}
      <rect x={bLeft} y={bTop} width={bRight - bLeft} height={bBottom - bTop} fill="none" stroke="#888" strokeWidth={0.8} />
      <rect x={bLeft} y={bStripTop} width={bRight - bLeft} height={bTop - bStripTop} fill="#D9D9D9" stroke="#888" strokeWidth={0.8} />
      <text x={(bLeft + bRight) / 2} y={(bStripTop + bTop) / 2 + 3.2} textAnchor="middle" fontSize={9} fill="#1A1A1A">LUHC</text>
      {yTicksB.map((v, k) => (
        <g key={`ytb${k}`}>
          <line x1={45.3} x2={bLeft} y1={yB(v)} y2={yB(v)} stroke="#333" strokeWidth={0.6} />
          <text x={44} y={yB(v) + 3.2} textAnchor="end" fontSize={9} fill={tickTextCol}>{yTickLabelsB[k]}</text>
        </g>
      ))}
      {bCategories.map((c, k) => (
        <g key={`xtb${k}`}>
          <line x1={xB(c)} x2={xB(c)} y1={bBottom} y2={bBottom + 2.7} stroke="#333" strokeWidth={0.6} />
          <text x={xB(c)} y={bBottom + 13.2} textAnchor="middle" fontSize={9} fill={tickTextCol}>{c}</text>
        </g>
      ))}
      <text transform={`translate(22,${(bTop + bBottom) / 2}) rotate(-90)`} textAnchor="middle" fontSize={9.3} fill="#000">Infiltration Level</text>
      {/* legend */}
      <text x={582.7} y={281.2} fontSize={9.8} fill="#000">Copy Number</text>
      {cnGroups.map((g, gi) => {
        const cy = 292.7 + gi * 10;
        const cx = 589.5;
        return (
          <g key={`lg${gi}`}>
            <line x1={cx} x2={cx} y1={cy - 4.8} y2={cy + 4.8} stroke="#333" strokeWidth={0.7} />
            <rect x={cx - 4.8} y={cy - 2.8} width={9.6} height={5.6} fill={cnColors[gi]} fillOpacity={boxFillOpacity[gi]} stroke="#333" strokeWidth={0.7} />
            <line x1={cx - 4.8} x2={cx + 4.8} y1={cy} y2={cy} stroke="#1A1A1A" strokeWidth={1.1} />
            <circle cx={cx} cy={cy} r={1.3} fill={cnColors[gi]} />
            <text x={599} y={cy + 2.9} fontSize={8} fill="#000">{g}</text>
          </g>
        );
      })}

      {/* ================= Panel C ================= */}
      <text x={4} y={422.5} fontSize={11.5} fill="#000">C</text>
      <rect x={5} y={437} width={W - 5} height={H - 437} fill="#F2F2F2" />
      <text x={22} y={457.3} fontSize={9.4} fill="#333">{tableTitle}</text>
      {(() => {
        const colX = [181, 276, 378, 501, 587, 665];
        const anchors = ["middle", "middle", "middle", "middle", "start", "middle"];
        const cols = [colCoef, colHR, colCI1, colCIu, colP, colSig];
        const rowY = (r: number) => 486.7 + r * 21.83;
        return (
          <g fontSize={9.4} fill="#333">
            {tableHeaders.map((h, k) => (
              <text key={`h${k}`} x={colX[k]} y={473.3} textAnchor={anchors[k] as any}>{h}</text>
            ))}
            {tableRows.map((r, ri) => (
              <g key={`r${ri}`}>
                <text x={22} y={rowY(ri) + 3.3}>{r}</text>
                {cols.map((col, k) => (
                  <text key={k} x={colX[k]} y={rowY(ri) + 3.3} textAnchor={anchors[k] as any} fontSize={k === 5 ? 7.5 : 9.4}>{col[ri]}</text>
                ))}
              </g>
            ))}
          </g>
        );
      })()}
    </svg>
  );
};

export default App;
